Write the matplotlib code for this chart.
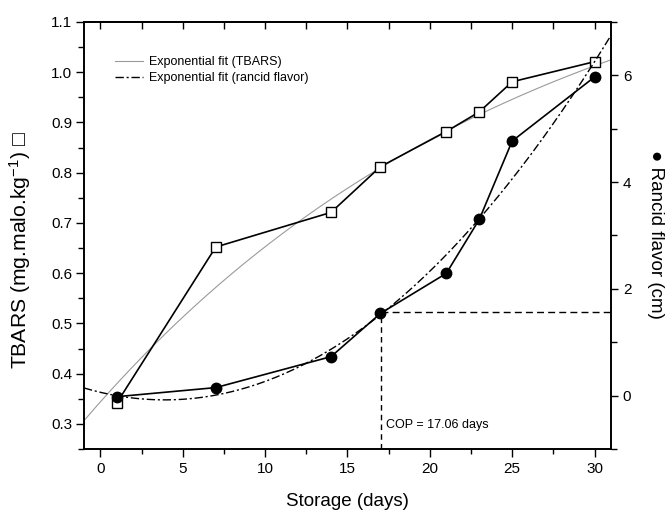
import matplotlib
matplotlib.use("Agg")
import matplotlib.pyplot as plt
import numpy as np
from matplotlib.ticker import MultipleLocator, FormatStrFormatter

plt.rcParams['font.family'] = ['Liberation Sans', 'DejaVu Sans']
plt.rcParams['mathtext.fontset'] = 'custom'
plt.rcParams['mathtext.rm'] = 'Liberation Sans'
plt.rcParams['mathtext.it'] = 'Liberation Sans:italic'

# storage days and measured values
days = [1, 7, 14, 17, 21, 23, 25, 30]
tbars = [0.342, 0.652, 0.721, 0.812, 0.882, 0.921, 0.981, 1.021]
rancid = [-0.02, 0.15, 0.73, 1.54, 2.29, 3.30, 4.77, 5.97]

# fitted curve parameters
tbars_y0, tbars_a, tbars_t = 1.341, 0.997, 27.0
rancid_xmin, rancid_ymin, rancid_k = 3.9, -0.08, 0.0093

cop_day = 17.06
cop_level = 1.56
cop_text = 'COP = 17.06 days'

fig = plt.figure(figsize=(6.65, 5.14), dpi=100)
ax = fig.add_axes([0.1263, 0.1265, 0.7925, 0.8307])
ax2 = ax.twinx()

xx = np.linspace(-1, 31, 300)
tbars_fit = tbars_y0 - tbars_a * np.exp(-xx / tbars_t)
rancid_fit = rancid_ymin + rancid_k * (xx - rancid_xmin) ** 2

# TBARS on the left axis
l1, = ax.plot(xx, tbars_fit, color='#9a9a9a', lw=0.8, label='Exponential fit (TBARS)')
ax.plot(days, tbars, color='black', lw=1.2, marker='s', ms=7, mfc='white',
        mec='black', mew=1.0)

# rancid flavor on the right axis
l2, = ax2.plot(xx, rancid_fit, color='black', lw=1.0, ls=(0, (6, 2, 1.5, 2)),
               label='Exponential fit (rancid flavor)')
ax2.plot(days, rancid, color='black', lw=1.2, marker='o', ms=7.5, mfc='black', mec='black')

# cut-off point lines
ax2.plot([cop_day, 31], [cop_level, cop_level], color='black', lw=1.0, ls=(0, (5, 3)))
ax2.plot([cop_day, cop_day], [-1, cop_level], color='black', lw=1.0, ls=(0, (4, 3)))
ax2.text(cop_day + 0.3, -0.55, cop_text, fontsize=9, ha='left', va='center')

# limits and ticks
ax.set_xlim(-1, 31)
ax.set_ylim(0.25, 1.1)
ax2.set_ylim(-1, 7)

ax.xaxis.set_major_locator(MultipleLocator(5))
ax.xaxis.set_minor_locator(MultipleLocator(2.5))
ax.yaxis.set_major_locator(MultipleLocator(0.1))
ax.yaxis.set_minor_locator(MultipleLocator(0.05))
ax.yaxis.set_major_formatter(FormatStrFormatter('%.1f'))
ax2.set_yticks([0, 2, 4, 6])
ax2.set_yticks([-1, 1, 3, 5, 7], minor=True)

ax.tick_params(axis='x', which='major', direction='out', length=5.5, width=1, labelsize=11, pad=4)
ax.tick_params(axis='x', which='minor', direction='out', length=3.5, width=1)
ax.tick_params(axis='y', which='major', direction='out', length=5.5, width=1, labelsize=11, pad=3, right=False)
ax.tick_params(axis='y', which='minor', direction='out', length=4, width=1, right=False)
ax2.tick_params(axis='y', which='major', direction='out', length=5, width=1, labelsize=11, pad=3.5)
ax2.tick_params(axis='y', which='minor', direction='out', length=4, width=1)

top = ax.secondary_xaxis('top')
top.xaxis.set_major_locator(MultipleLocator(5))
top.xaxis.set_minor_locator(MultipleLocator(2.5))
top.tick_params(which='both', direction='in', length=5, width=1, labeltop=False)

for a in (ax, ax2):
    for s in a.spines.values():
        s.set_linewidth(1.2)
top.spines['top'].set_linewidth(1.2)

# labels
ax.set_xlabel('Storage (days)', fontsize=13.5)
ax.xaxis.set_label_coords(0.5, -0.103)
ax.set_ylabel('TBARS (mg.malo.kg$^{-1}$) □', fontsize=15.2)
ax.yaxis.set_label_coords(-0.097, 0.466)
ax2.set_ylabel('● Rancid flavor (cm)', fontsize=13.5, rotation=-90, va='center')
ax2.yaxis.set_label_coords(1.0835, 0.502)

ax2.legend(handles=[l1, l2], loc='upper left', bbox_to_anchor=(0.059, 0.92),
           frameon=False, fontsize=9, borderpad=0, borderaxespad=0,
           handlelength=2.2, handletextpad=0.5, labelspacing=0.3)

fig.savefig('out.png', dpi=100)
